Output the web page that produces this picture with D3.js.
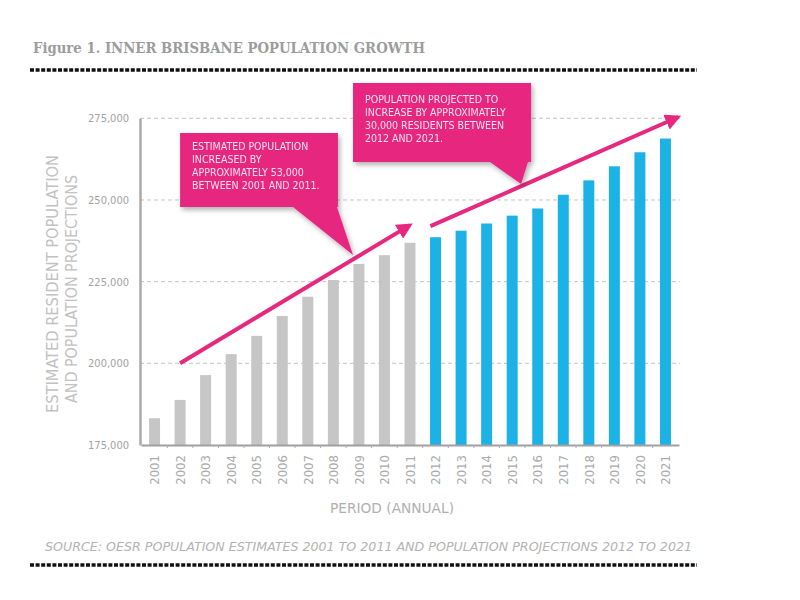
<!DOCTYPE html>
<html>
<head>
<meta charset="utf-8">
<script src="https://cdn.jsdelivr.net/npm/d3@7"></script>
<style>
  body { margin: 0; background: #fff; }
  text { font-family: "DejaVu Sans", sans-serif; font-stretch: condensed; }
</style>
</head>
<body>
<div class="chart"></div>
<script>
// Data
var years = ["2001", "2002", "2003", "2004", "2005", "2006", "2007", "2008", "2009", "2010", "2011",
    "2012", "2013", "2014", "2015", "2016", "2017", "2018", "2019", "2020", "2021"];
var population = [183200, 188800, 196400, 202800, 208400, 214500, 220400, 225500, 230400, 233100, 236900,
    238600, 240600, 242800, 245200, 247400, 251600, 256000, 260300, 264600, 268800];
var firstProjected = "2012";
var yTicks = [175000, 200000, 225000, 250000, 275000];

// Callout notes, anchored in (year, population) units
var note1 = ["ESTIMATED POPULATION", "INCREASED BY", "APPROXIMATELY 53,000", "BETWEEN 2001 AND 2011."];
var note2 = ["POPULATION PROJECTED TO", "INCREASE BY APPROXIMATELY", "30,000 RESIDENTS BETWEEN", "2012 AND 2021."];

// Configuration
var width = 800;
var height = 600;
var plotLeft = 140, plotRight = 680, plotTop = 118.3, plotBottom = 445;
var pink = "#e6287f";

var svg = d3.select(".chart").append("svg")
    .attr("width", width)
    .attr("height", height);

var defs = svg.append("defs");
var shadow = defs.append("filter").attr("id", "shadow")
    .attr("x", "-10%").attr("y", "-10%").attr("width", "130%").attr("height", "140%");
shadow.append("feDropShadow")
    .attr("dx", 2).attr("dy", 3).attr("stdDeviation", 2.5)
    .attr("flood-color", "#000").attr("flood-opacity", 0.3);

// Scales
var x = d3.scaleBand()
    .domain(years)
    .range([plotLeft + 1, plotRight - 1])
    .paddingInner(0.57)
    .paddingOuter(0.315);

var y = d3.scaleLinear()
    .domain([175000, 275000])
    .range([plotBottom, plotTop]);

// year -> pixel, for the annotations
var xi = d3.scaleLinear()
    .domain([2001, 2021])
    .range([x("2001") + x.bandwidth() / 2, x("2021") + x.bandwidth() / 2]);

// Title + dotted rules
svg.append("text")
    .attr("x", 33).attr("y", 53)
    .attr("textLength", 392)
    .attr("lengthAdjust", "spacingAndGlyphs")
    .style("font-family", "'DejaVu Serif', serif")
    .style("font-stretch", "normal")
    .style("font-weight", "bold")
    .style("font-size", "14px")
    .attr("fill", "#9c9c9c")
    .text("Figure 1.  INNER BRISBANE POPULATION GROWTH");

[70, 565].forEach(function(ry) {
    svg.append("line")
        .attr("x1", 30).attr("x2", 697)
        .attr("y1", ry).attr("y2", ry)
        .attr("stroke", "#111")
        .attr("stroke-width", 3.5)
        .attr("stroke-dasharray", "4,1.6");
});

// Gridlines
svg.append("g").selectAll("line")
    .data(yTicks.slice(1))
    .enter().append("line")
    .attr("x1", plotLeft).attr("x2", plotRight)
    .attr("y1", function(d) { return y(d); })
    .attr("y2", function(d) { return y(d); })
    .attr("stroke", "#c4c4c4")
    .attr("stroke-dasharray", "4,3");

// Y axis
var yAxis = svg.append("g")
    .attr("transform", "translate(" + plotLeft + ",0)")
    .call(d3.axisLeft(y).tickValues(yTicks).tickSize(0).tickPadding(11)
        .tickFormat(d3.format(",")));
yAxis.select(".domain").attr("stroke", "#aaa").attr("stroke-width", 2.5);
yAxis.selectAll("text").attr("fill", "#a3a3a3").style("font-size", "11px")
    .style("font-family", null);

// Bars
svg.append("g").selectAll("rect")
    .data(population)
    .enter().append("rect")
    .attr("x", function(d, i) { return x(years[i]); })
    .attr("width", x.bandwidth())
    .attr("y", function(d) { return y(d); })
    .attr("height", function(d) { return y(175000) - y(d); })
    .attr("fill", function(d, i) { return +years[i] >= +firstProjected ? "#1db2e6" : "#c6c6c6"; });

// X axis
var xAxis = svg.append("g")
    .attr("transform", "translate(0," + plotBottom + ")")
    .call(d3.axisBottom(x).tickSize(0).tickPadding(0));
xAxis.select(".domain").attr("stroke", "#a0a0a0").attr("stroke-width", 2);
xAxis.selectAll("text")
    .attr("transform", "translate(0,10) rotate(-90)")
    .attr("x", 0).attr("y", 0).attr("dy", "0.36em")
    .style("text-anchor", "end")
    .style("font-size", "13px")
    .style("font-family", null)
    .attr("fill", "#ababab");
// small ticks between bars
svg.append("g").selectAll("line")
    .data(years.slice(1))
    .enter().append("line")
    .attr("x1", function(d) { return x(d) - x.step() * x.paddingInner() / 2; })
    .attr("x2", function(d) { return x(d) - x.step() * x.paddingInner() / 2; })
    .attr("y1", plotBottom).attr("y2", plotBottom + 3)
    .attr("stroke", "#aaa");

// Axis titles
svg.append("text")
    .attr("transform", "translate(392,513)")
    .style("text-anchor", "middle")
    .style("font-size", "14px")
    .attr("textLength", 124)
    .attr("lengthAdjust", "spacingAndGlyphs")
    .attr("fill", "#b0b0b0")
    .text("PERIOD (ANNUAL)");

svg.append("text")
    .attr("transform", "translate(58,284) rotate(-90)")
    .style("text-anchor", "middle")
    .style("font-size", "15px")
    .attr("textLength", 258)
    .attr("lengthAdjust", "spacingAndGlyphs")
    .attr("fill", "#c2c2c2")
    .text("ESTIMATED RESIDENT POPULATION");
svg.append("text")
    .attr("transform", "translate(77,289) rotate(-90)")
    .style("text-anchor", "middle")
    .style("font-size", "15px")
    .attr("textLength", 228)
    .attr("lengthAdjust", "spacingAndGlyphs")
    .attr("fill", "#c2c2c2")
    .text("AND POPULATION PROJECTIONS");

// Source
svg.append("text")
    .attr("x", 45).attr("y", 551)
    .attr("textLength", 647)
    .attr("lengthAdjust", "spacingAndGlyphs")
    .style("font-size", "13px")
    .style("font-style", "italic")
    .attr("fill", "#b3b3b3")
    .text("SOURCE: OESR POPULATION ESTIMATES 2001 TO 2011 AND POPULATION PROJECTIONS 2012 TO 2021");

// Trend arrows
defs.append("marker")
    .attr("id", "head")
    .attr("viewBox", "0 0 10 10")
    .attr("refX", 8).attr("refY", 5)
    .attr("markerWidth", 4).attr("markerHeight", 4)
    .attr("orient", "auto")
    .append("path")
    .attr("d", "M0,0 L10,5 L0,10 z")
    .attr("fill", pink);

var arrows = [
    [[2002, 200000], [2011, 242300]],
    [[2011.8, 242000], [2021.5, 275400]]
];
svg.append("g").selectAll("line")
    .data(arrows)
    .enter().append("line")
    .attr("x1", function(d) { return xi(d[0][0]); })
    .attr("y1", function(d) { return y(d[0][1]); })
    .attr("x2", function(d) { return xi(d[1][0]); })
    .attr("y2", function(d) { return y(d[1][1]); })
    .attr("stroke", pink)
    .attr("stroke-width", 4)
    .attr("marker-end", "url(#head)");

// Callout boxes
var callouts = [
    { lines: note1, x0: 2002.0, x1: 2008.18, v0: 270470, v1: 247830,
      p0: 2006.42, p1: 2008.14, tip: [2008.77, 233140], first: 17 },
    { lines: note2, x0: 2008.77, x1: 2015.74, v0: 285770, v1: 261600,
      p0: 2014.13, p1: 2015.62, tip: [2015.35, 254860], first: 20 }
];

var boxes = svg.selectAll("g.callout")
    .data(callouts)
    .enter().append("g")
    .attr("class", "callout")
    .style("filter", "url(#shadow)");

boxes.append("path")
    .attr("fill", pink)
    .attr("d", function(d) {
        var l = xi(d.x0), r = xi(d.x1), t = y(d.v0), b = y(d.v1);
        return "M" + l + "," + t + "L" + r + "," + t + "L" + r + "," + b +
            "L" + xi(d.p1) + "," + b + "L" + xi(d.tip[0]) + "," + y(d.tip[1]) +
            "L" + xi(d.p0) + "," + b + "L" + l + "," + b + "Z";
    });

boxes.each(function(d) {
    var g = d3.select(this);
    g.selectAll("text")
        .data(d.lines)
        .enter().append("text")
        .attr("x", xi(d.x0) + 12)
        .attr("y", function(t, i) { return y(d.v0) + d.first + i * 13; })
        .style("font-size", "10.5px")
        .attr("fill", "#fbe0ee")
        .text(function(t) { return t; });
});
</script>
</body>
</html>
